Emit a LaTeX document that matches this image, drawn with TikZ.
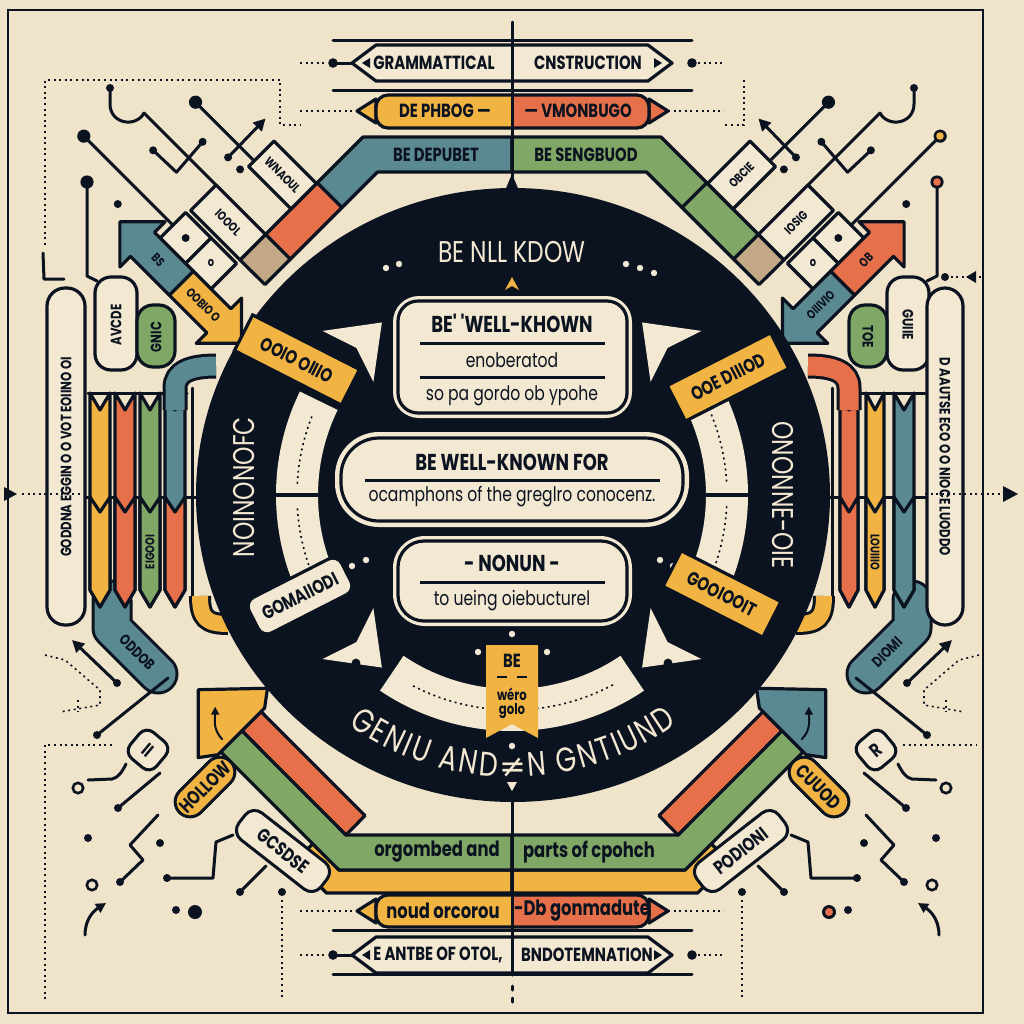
\documentclass[tikz,border=0pt]{standalone}
\usepackage{fontspec}
\newfontfamily\tagfont{Poppins}[FakeStretch=0.78]
\newfontfamily\dejafont{DejaVu Sans}
\usetikzlibrary{calc,arrows.meta,shapes.misc,decorations.text}

\definecolor{paper}{HTML}{EFE3CA}
\definecolor{cream}{HTML}{F3E8D1}
\definecolor{ink}{HTML}{0C1320}
\definecolor{mustard}{HTML}{F1B443}
\definecolor{coral}{HTML}{E6704A}
\definecolor{sage}{HTML}{80A766}
\definecolor{teal}{HTML}{5B8991}
\definecolor{tan}{HTML}{C3A886}

\newcommand\arcfont{\tagfont\fontsize{17}{17}\selectfont\color{cream}\kern1.2pt}

\tikzset{
  ln/.style={draw=ink, line width=1.5pt, line cap=round, line join=round},
  guide/.style={draw=ink, line width=0.8pt, dash pattern=on 1pt off 1.8pt},
  band/.style={draw=ink, line width=1.6pt, line join=round},
  lbl/.style={font=\tagfont\bfseries\fontsize{9.5}{10}\selectfont, text=ink, inner sep=1pt},
  minilbl/.style={font=\tagfont\bfseries\fontsize{7.5}{8}\selectfont, text=ink, inner sep=1pt},
  tinylbl/.style={font=\tagfont\bfseries\fontsize{6.3}{7}\selectfont, text=ink, inner sep=0.5pt},
  lowlbl/.style={font=\tagfont\bfseries\fontsize{10.5}{11}\selectfont, text=ink, inner sep=1pt},
  headlbl/.style={font=\tagfont\bfseries\fontsize{11.5}{12}\selectfont, text=ink, inner sep=1pt},
  subline/.style={font=\tagfont\fontsize{10}{11}\selectfont, text=ink, inner sep=1pt},
  glow/.style={font=\tagfont\fontsize{15}{15}\selectfont, text=cream, inner sep=0pt},
  tagbox/.style={lbl, draw=ink, line width=1.6pt, minimum height=20pt, inner xsep=4pt}
}

\begin{document}
\begin{tikzpicture}[x=0.5pt, y=-0.5pt]
\useasboundingbox (0,0) rectangle (1024,1024);
\fill[paper] (0,0) rectangle (1024,1024);
\draw[ink, line width=1.4pt] (8,10) rectangle (983,1013);

% dotted guides
\draw[guide] (45,245) -- (45,80) -- (280,80) -- (280,125) -- (300,125);
\draw[guide] (744,80) -- (744,125) -- (724,125);
\draw[guide] (112,745) -- (45,745) -- (45,1000);
\draw[guide] (903,745) -- (977,745);
\draw[guide] (282,900) -- (282,1000);
\draw[guide] (742,900) -- (742,1000);
\draw[guide] (45,655) -- (65,660) -- (100,690) -- (100,705) -- (60,712);
\draw[guide] (78,700) -- (78,712);
\draw[guide] (979,655) -- (959,660) -- (924,690) -- (924,705) -- (964,712);
\draw[guide] (946,700) -- (946,712);
\draw[ln] (43,253) -- (44,279) -- (64,279);
\draw[guide] (945,277) -- (981,277);
\fill[ink] (945,277) circle (2pt);
\fill[ink] (966,277) -- (976,271) -- (976,283) -- cycle;

% upper corners
\foreach \side/\nm/\cband/\cseg/\chead/\ctail/\ta/\tb/\tc/\td/\te/\pa/\pb in
  {1/l/teal/coral/teal/mustard/IOOOL/WNAOUL/o/BS/OOBIO O/AVCDE/GNIC,
   -1/r/sage/sage/coral/teal/IOSIG/OBCIE/o/OB/OIIIVIO/GUIIE/TOE} {
\begin{scope}[shift={(512,0)}, xscale=\side, shift={(-512,0)}]
  \filldraw[band, fill=\cband] (512,137) -- (363,137) -- (317.2,182.8) -- (341.9,207.6) -- (377.5,172) -- (512,172) -- cycle;
  \filldraw[band, fill=\cseg] (317.2,182.8) -- (265.6,234.4) -- (290.3,259.2) -- (341.9,207.6) -- cycle;
  \filldraw[band, fill=tan] (265.6,234.4) -- (240.1,259.9) -- (264.9,284.6) -- (290.3,259.2) -- cycle;
  \filldraw[band, fill=cream, rounded corners=8pt] (95,277) rectangle (137,370);
  \filldraw[band, fill=sage, rounded corners=8pt] (137,305) rectangle (175,367);
  \node[minilbl, rotate=90*\side] (pa\nm) at (116,325) {\pa};
  \node[minilbl, rotate=90*\side] (pb\nm) at (156,337) {\pb};
  \draw[ln] (87,182) -- (87,276) -- (97,281);
  \draw[ln] (110,88) -- (110,104) .. controls (110,124) and (136,128) .. (144,113);
  \fill[ink] (87,182) circle (3.3pt);
  \fill[ink] (110,88) circle (2pt);
  \begin{scope}[shift={(250,250)}, rotate=-45]
    \draw[ln] (-198,37) -- (-72,37);
    \draw[ln] (-143,-66) -- (-60,-66);
    \draw[ln] (-172,-22) -- (-70,-22);
    \draw[ln] (-139,-2) -- (-107,-3) -- (-110,-43);
    \draw[ln, -{Triangle[length=6pt, width=6pt]}] (-81,-50) -- (-82,-104);
    \foreach \p in {(-198,37), (-143,-66)} \fill[ink] \p circle (3.3pt);
    \foreach \p in {(-139,-2), (-110,-43), (-81,-50), (-126,61), (-64,-50)} \fill[ink] \p circle (2pt);
    \filldraw[band, fill=cream] (-72,19) rectangle (-36,55);
    \filldraw[band, fill=cream] (-36,19) rectangle (0,55);
    \filldraw[band, fill=cream] (-70,-22) rectangle (0,14);
    \filldraw[band, fill=cream] (-60,-94) rectangle (0,-58);
    \fill[ink] (-54,37) circle (2pt);
    \node[tinylbl] (bo\nm) at (-18,37) {\tc};
    \node[tinylbl, rotate={-45*\side}] (bi\nm) at (-35,-4) {\ta};
    \node[tinylbl, rotate={-45*\side}] (bw\nm) at (-30,-76) {\tb};
    \filldraw[band, fill=\chead] (-112,72) -- (-80,40) -- (-80,55) -- (-25,55) -- (-25,89) -- (-80,89) -- (-80,104) -- cycle;
    \filldraw[band, fill=\ctail] (-25,55) -- (28,55) -- (28,40) -- (60,72) -- (28,104) -- (28,89) -- (-25,89) -- cycle;
    \node[tinylbl, rotate={-45*\side}] (ah\nm) at (-58,72) {\td};
    \node[tinylbl, rotate={-45*\side}] (at\nm) at (6,72) {\te};
  \end{scope}
\end{scope}
}
\fill[mustard] (940,136) circle (1.9pt);
\fill[coral] (937,182) circle (1.9pt);

% lower corners
\foreach \side/\nm/\chead/\ta/\tb/\tc/\tu in
  {1/l/mustard/HOLLOW/II/GCSDSE/ODDOB, -1/r/teal/CUUOD/R/PODIONI/DIOMI} {
\begin{scope}[shift={(512,0)}, xscale=\side, shift={(-512,0)}]
  \draw[ink, line width=20.5pt, line cap=round, line join=round] (112,600) -- (112,628) -- (158,674);
  \draw[teal, line width=17.5pt, line cap=round, line join=round] (112,600) -- (112,628) -- (158,674);
  \node[minilbl, rotate={-45*\side}] (tb\nm) at (137,652) {\tu};
  \draw[ln] (192,388) -- (192,598);
  \draw[ink, line width=11pt] (200,596) .. controls (200,618) and (206,624) .. (228,624);
  \draw[mustard, line width=8pt] (200,596) .. controls (200,618) and (206,624) .. (228,624);
  \filldraw[band, fill=mustard] (512,870) -- (339,870) -- (312.7,843.8) -- (295,861.5) -- (326.5,893) -- (512,893) -- cycle;
  \filldraw[band, fill=sage] (512,835) -- (346,835) -- (242,730.7) -- (220.8,751.9) -- (339,870) -- (512,870) -- cycle;
  \filldraw[band, fill=coral] (261.1,711.6) -- (242,730.7) -- (346,835) -- (365,815.6) -- cycle;
  \begin{scope}[shift={(300,800)}, rotate=-45]
    \filldraw[band, fill=\chead] (-150,-6) -- (-102,-56) -- (-90,-40) -- (-90,26) -- (-102,42) -- cycle;
    \draw[ln, line width=1pt, -{Triangle[length=4pt, width=4pt]}] (-98,12) .. controls (-112,12) and (-118,2) .. (-126,-6);
  \end{scope}
  \draw[ln] (97,735) -- (168,678);
  \draw[ln] (118,808) -- (160,773);
  \draw[ln] (120,882) -- (143,860) -- (130,845) -- (158,815);
  \draw[ln] (167,878) -- (213,878) -- (216,842) -- (233,835);
  \draw[ln] (240,892) -- (266,866);
  \draw[ln] (88,780) -- (112,779) .. controls (118,778) and (122,772) .. (126,764);
  \draw[ln, -{Triangle[length=5pt, width=5pt]}] (85,935) .. controls (85,918) and (95,910) .. (106,903);
  \draw[ln, -{Triangle[length=6pt, width=6pt]}] (117,683) -- (72,640);
  \foreach \p in {(118,808), (88,838), (160,843), (120,882), (167,878), (176,910), (240,892), (282,892), (117,683), (97,735)}
    \fill[ink] \p circle (2pt);
  \fill[ink] (195,912) circle (3.5pt);
  \foreach \p in {(78,788), (92,885)} \draw[ink, line width=1.3pt] \p circle (2.6pt);
  \node[lbl, draw=ink, line width=1.5pt, fill=mustard, rounded rectangle, minimum width=38pt, minimum height=15pt, rotate={45*\side}] (ho\nm) at (205,787) {\ta};
  \node[lbl, draw=ink, line width=1.5pt, fill=cream, rounded corners=5pt, minimum size=17pt, rotate={-40*\side}] (ii\nm) at (148,750) {\tb};
  \node[lbl, draw=ink, line width=1.5pt, fill=cream, rounded corners=6pt, minimum width=52pt, minimum height=17pt, rotate={-38*\side}] (gc\nm) at (283,851) {\tc};
\end{scope}
}
\fill[coral] (829,912) circle (2pt);

% side pills and bars
\draw[ln] (88,393) -- (187,393);
\draw[ln] (86,497) -- (198,497);
\draw[ln] (838,393) -- (925,393);
\draw[ln] (826,497) -- (927,497);
\filldraw[band, fill=cream, rounded corners=9pt] (47,288) rectangle (85,625);
\node[minilbl, rotate=90] (lpill) at (66,457) {GODDNA EGGIN O O VOT EOIINO OI};
\filldraw[band, fill=cream, rounded corners=9pt] (927,288) rectangle (963,625);
\node[minilbl, rotate=-90] (rpill) at (945,457) {D AAUTSE ECO O O NIOCE LUODDO};
\foreach \xa/\xm/\xb/\ca/\cb in {90/100/110/mustard/mustard, 115/125/135/coral/coral, 140/150/160/sage/sage, 165/175/185/teal/coral,
    840/849/858/coral/coral, 866/875/884/mustard/mustard, 894/904/914/teal/teal} {
  \filldraw[band, fill=\ca] (\xa,393) -- (\xm,410) -- (\xb,393) -- (\xb,590) -- (\xm,607) -- (\xa,590) -- cycle;
  \filldraw[band, fill=\cb] (\xa,497) -- (\xm,512) -- (\xb,497) -- (\xb,590) -- (\xm,607) -- (\xa,590) -- cycle;
}
\node[tinylbl, rotate=90] (gbar) at (150,552) {EIGOOI};
\node[tinylbl, rotate=-90] (ybar) at (875,552) {LOUIIIO};
\foreach \side/\ctop in {1/teal, -1/coral} {
\begin{scope}[shift={(512,0)}, xscale=\side, shift={(-512,0)}]
  \draw[ink, line width=12.5pt] (175,410) -- (175,388) .. controls (175,372) and (190,366) .. (216,366);
  \draw[\ctop, line width=9.5pt] (175,410) -- (175,388) .. controls (175,372) and (190,366) .. (216,366);
\end{scope}
}
\draw[guide] (22,494) -- (92,494);
\draw[guide] (925,494) -- (1000,494);
\fill[ink] (4,487) -- (17,494) -- (4,501) -- cycle;
\fill[ink] (1003,486) -- (1018,494) -- (1003,502) -- cycle;

% top stack
\node[lbl] (dep) at (436,155) {BE DEPUBET};
\node[lbl] (sen) at (586,155) {BE SENGBUOD};
\draw[guide] (300,63) -- (326,63);
\draw[guide] (698,63) -- (724,63);
\draw[guide] (300,111) -- (356,111);
\draw[guide] (668,111) -- (724,111);
\draw[ln] (333,40) -- (692,40);
\draw[ln] (333,90) -- (692,90);
\draw[ln] (333,63) -- (672,63);
\filldraw[band, fill=cream] (352,63) -- (376,45) -- (648,45) -- (672,63) -- (648,81) -- (376,81) -- cycle;
\fill[ink] (333,63) circle (2.4pt);
\fill[ink] (692,63) circle (2.4pt);
\fill[ink] (362,63) -- (370,58) -- (370,68) -- cycle;
\fill[ink] (662,63) -- (654,58) -- (654,68) -- cycle;
\node[lbl] (gram) at (434,63) {GRAMMATTICAL};
\node[lbl] (cons) at (588,63) {CNSTRUCTION};
\filldraw[band, fill=mustard] (357,111) -- (376,99) -- (376,123) -- cycle;
\filldraw[band, fill=coral] (668,111) -- (649,99) -- (649,123) -- cycle;
\begin{scope}
  \clip[rounded corners=6pt] (376,95) rectangle (649,128);
  \fill[mustard] (376,95) rectangle (512,128);
  \fill[coral] (512,95) rectangle (649,128);
\end{scope}
\draw[band, rounded corners=6pt] (376,95) rectangle (649,128);
\node[lbl] (phb) at (445,111) {DE PHBOG —};
\node[lbl] (vmo) at (578,111) {— VMONBUGO};

% bottom stack
\node[lowlbl] (org) at (437,852) {orgombed and};
\node[lowlbl] (par) at (589,852) {parts of cpohch};
\draw[guide] (300,911) -- (356,911);
\draw[guide] (668,911) -- (724,911);
\draw[guide] (300,955) -- (326,955);
\draw[guide] (698,955) -- (724,955);
\filldraw[band, fill=mustard] (357,911) -- (376,899) -- (376,923) -- cycle;
\filldraw[band, fill=coral] (668,911) -- (649,899) -- (649,923) -- cycle;
\begin{scope}
  \clip[rounded corners=6pt] (376,895) rectangle (649,927);
  \fill[mustard] (376,895) rectangle (512,927);
  \fill[coral] (512,895) rectangle (649,927);
\end{scope}
\draw[band, rounded corners=6pt] (376,895) rectangle (649,927);
\node[lowlbl] (nou) at (443,911) {noud orcorou};
\node[lowlbl] (gon) at (582,911) {-Db gonmadute};
\draw[ln] (333,930) -- (692,930);
\draw[ln] (333,974) -- (692,974);
\draw[ln] (333,955) -- (672,955);
\filldraw[band, fill=cream] (352,955) -- (376,937) -- (648,937) -- (672,955) -- (648,973) -- (376,973) -- cycle;
\fill[ink] (333,955) circle (2.4pt);
\fill[ink] (692,955) circle (2.4pt);
\fill[ink] (362,955) -- (370,950) -- (370,960) -- cycle;
\fill[ink] (662,955) -- (654,950) -- (654,960) -- cycle;
\node[lbl] (ant) at (438,955) {E ANTBE OF OTOL,};
\node[lbl] (bnd) at (587,955) {BNDOTEMNATION};

% big dial
\coordinate (c) at (512,495);
\fill[ink] (513,495) ellipse [x radius=317, y radius=307];
\foreach \a/\b in {154/206, -26/26, 56/124}
  \fill[cream] ($(c)+(\a:236)$) arc[start angle=\a, end angle=\b, radius=236] -- ($(c)+(\b:194)$) arc[start angle=\b, end angle=\a, radius=194] -- cycle;
\foreach \a/\b in {158/177, 183/202, -22/-3, 3/22, 62/84, 96/118}
  \draw[guide] ($(c)+(\a:215)$) arc[start angle=\a, end angle=\b, radius=215];
\draw[ink, line width=1.6pt] ($(c)+(180:190)$) -- ($(c)+(180:240)$);
\draw[ink, line width=1.6pt] ($(c)+(0:190)$) -- ($(c)+(0:240)$);
\foreach \ang/\rot in {225/45, 315/135, 135/-45, 45/-135} {
  \begin{scope}[shift={($(c)+(\ang:214)$)}, rotate=\rot]
    \fill[cream] (30,0) -- (-18,-36) -- (-6,0) -- (-18,36) -- cycle;
  \end{scope}
}
\fill[ink] (356,663) circle (2.2pt);
\fill[ink] (668,663) circle (2.2pt);
\foreach \p in {(386,268), (399,264), (626,264), (640,268), (654,273), (352,566), (366,560), (660,560), (673,566), (512,634), (512,746), (478,652), (547,652)}
  \fill[cream] \p circle (1.6pt);
\fill[mustard] (512,277) -- (519,290) -- (512,286) -- (505,290) -- cycle;
\draw[cream, line width=1.1pt, line cap=round] (452,487) -- (438,487);
\draw[cream, line width=1.1pt, line cap=round, line join=round] (444,481) -- (437,487) -- (444,493);
\fill[cream] (507,782) -- (517,782) -- (512,791) -- cycle;
\node[glow] (title) at (512,252) {BE NLL KDOW};
\node[glow, rotate=90] (lside) at (244,487) {NOINONOFC};
\node[glow, rotate=-90] (rside) at (783,495) {ONONNE-OIE};
\path[decorate, decoration={text along path, text align=center, text={|\arcfont|GENIU AND|\dejafont\fontsize{16}{16}\selectfont\color{cream}\kern1.2pt|≠|\arcfont|N GNTIUND}}]
  ($(c)+(150:282)$) arc[start angle=150, end angle=30, radius=282];

% central cards
\fill[cream, rounded corners=13pt] (393,296) rectangle (632,418);
\draw[ink, line width=1.6pt, rounded corners=10pt] (398,301) rectangle (627,413);
\node[headlbl] (k1) at (512,323) {BE' 'WELL-KHOWN};
\draw[ink, line width=1.5pt] (420,343) -- (605,343);
\node[subline] (k2) at (512,360) {enoberatod};
\draw[ink, line width=1.5pt] (420,377) -- (605,377);
\node[subline] (k3) at (512,396) {so pa gordo ob ypohe};
\fill[cream, rounded corners=22pt] (335,432) rectangle (689,527);
\draw[ink, line width=1.6pt, rounded corners=19pt] (341,438) rectangle (683,521);
\node[headlbl] (w1) at (512,462) {BE WELL-KNOWN FOR};
\draw[ink, line width=1.5pt] (365,480) -- (660,480);
\node[subline] (w2) at (512,497) {ocamphons of the greglro conocenz.};
\fill[cream, rounded corners=16pt] (393,536) rectangle (632,626);
\draw[ink, line width=1.6pt, rounded corners=13pt] (398,541) rectangle (627,621);
\node[headlbl] (n1) at (512,563) {- NONUN -};
\draw[ink, line width=1.5pt] (420,582) -- (605,582);
\node[subline] (n2) at (512,601) {to ueing oiebucturel};
\fill[mustard] (486,645) -- (538,645) -- (538,738) -- (512,724) -- (486,738) -- cycle;
\node[lbl] (bn1) at (512,661) {BE};
\draw[ink, line width=1.3pt] (497,677) -- (507,677);
\draw[ink, line width=1.3pt] (517,677) -- (527,677);
\node[minilbl] (bn2) at (512,694) {wéro};
\node[minilbl] (bn3) at (512,711) {golo};

% tags on the rim
\node[tagbox, fill=mustard, minimum width=60pt, rotate=-27] (tul) at (297,360) {OOIO OIIIO};
\node[tagbox, fill=mustard, minimum width=58pt, rotate=27] (tur) at (728,377) {OOE DIIIOD};
\node[tagbox, fill=cream, minimum width=52pt, rounded corners=5pt, rotate=27] (tll) at (300,596) {GOMAIIODI};
\node[tagbox, fill=mustard, minimum width=56pt, rotate=-27] (tlr) at (722,594) {GOOIOOIT};

% spine
\draw[ln] (512,22) -- (512,186);
\fill[ink] (504,193) -- (512,174) -- (520,193) -- cycle;
\draw[ln] (512,800) -- (512,975);
\draw[ln] (512,986) -- (512,990);
\draw[ln] (512,998) -- (512,1002);
\end{tikzpicture}
\end{document}
